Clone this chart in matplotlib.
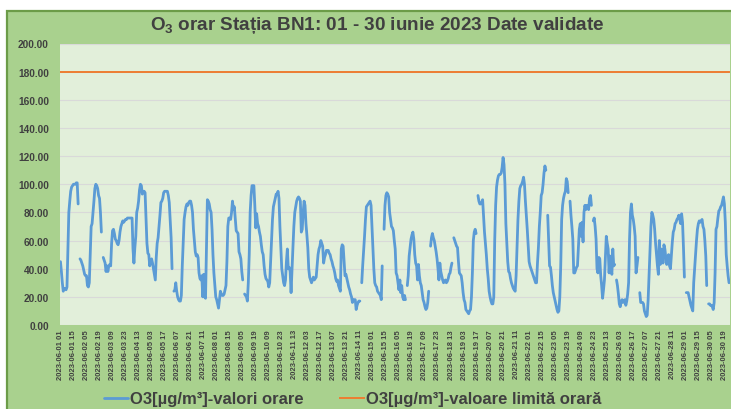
import numpy as np
import pandas as pd
import matplotlib
matplotlib.use('Agg')
import matplotlib.pyplot as plt
from matplotlib.patches import Rectangle

plt.rcParams['font.family'] = ['Liberation Sans', 'DejaVu Sans']
plt.rcParams['mathtext.default'] = 'regular'

nan = np.nan

# date: O3 orar, statia BN1, iunie 2023 (ug/m3)
prima_ora = '2023-06-01 01:00'
pas_eticheta = 14
limita_orara = 180.0
y_ticks = [0, 20, 40, 60, 80, 100, 120, 140, 160, 180, 200]

o3_orar = [
    45, 38, 30, 24, 26, 26, 25, 27, 55, 80, 88, 95, 98, 99, 100, 100, 100, 101, 101, 86, nan, 47, 46, 44,
    42, 39, 36, 35, 35, 28, 27, 30, 50, 70, 72, 80, 88, 97, 100, 99, 97, 92, 90, 80, 66, nan, 48, 46,
    44, 38, 42, 38, 42, 43, 42, 58, 67, 68, 65, 61, 60, 58, 57, 60, 66, 70, 72, 74, 73, 74, 75, 75,
    76, 76, 76, 76, 76, 76, 54, 44, 55, 63, 80, 83, 88, 96, 100, 99, 93, 95, 95, 94, 75, 58, 51, 50,
    42, 46, 47, 44, 40, 36, 32, 48, 58, 62, 70, 78, 87, 88, 90, 94, 95, 95, 95, 95, 92, 87, 75, 62,
    40, nan, 24, 25, 30, 24, 20, 18, 17, 17, 21, 42, 59, 75, 80, 84, 86, 85, 87, 88, 88, 85, 80, 68,
    60, 52, 49, 50, 48, 37, 33, 32, 35, 20, 36, 20, 19, 55, 89, 88, 86, 82, 80, 68, 50, 37, 28, 20,
    18, 15, 12, 18, 24, 22, 21, 21, 22, 25, 28, 45, 70, 76, 76, 75, 80, 88, 82, 84, 75, 67, 66, 65,
    52, 50, 47, 38, 32, nan, 22, 21, 20, 17, 30, 50, 80, 92, 99, 99, 99, 85, 69, 79, 72, 70, 66, 63,
    57, 52, 50, 42, 36, 33, 32, 31, 27, 30, 45, 61, 75, 84, 87, 90, 93, 93, 95, 90, 70, 55, 40, 35,
    30, 28, 32, 45, 54, 40, 41, 38, 23, 40, 55, 70, 80, 84, 88, 90, 91, 90, 88, 66, 68, 80, 88, 85,
    72, 64, 55, 40, 34, 32, 30, 32, 34, 32, 33, 34, 42, 50, 54, 56, 60, 58, 56, 44, 48, 50, 53, 53,
    53, 51, 50, 47, 45, 42, 40, 37, 33, 31, 32, 28, 26, 24, 54, 57, 56, 45, 35, 36, 33, 30, 27, 25,
    22, 20, 16, 18, 18, 18, 11, 14, 16, 17, 17, nan, 30, 42, 52, 63, 75, 84, 85, 86, 87, 88, 85, 70,
    55, 40, 30, 28, 27, 24, 23, 22, 21, 18, 42, nan, 68, 85, 92, 94, 93, 91, 80, 75, 70, 69, 67, 60,
    54, 37, 35, 30, 25, 32, 23, 28, 20, 18, 21, 18, nan, 28, 35, 49, 55, 61, 64, 66, 61, 50, 44,
    42, 32, 43, 35, 30, 28, 23, 18, 16, 13, 11, 12, 16, 24, nan, 56, 62, 65, 62, 60, 56, 52, 47, 40,
    32, 44, 38, 35, 32, 30, 31, 32, 30, 31, 33, 36, 37, 41, 44, nan, 62, 60, 58, 56, 55, 45, 37, 36,
    35, 30, 23, 18, 16, 11, 10, 9, 8, 10, 11, 20, 37, 60, 66, 68, 65, nan, 92, 88, 86, 86, 87, 89,
    78, 66, 58, 50, 40, 33, 24, 20, 17, 15, 15, 20, 60, 85, 98, 103, 106, 107, 107, 108, 112, 119, 114, 100,
    72, 58, 45, 38, 37, 33, 30, 28, 26, 25, 24, 35, 55, 75, 88, 97, 99, 100, 102, 105, 100, 88, 78, 68,
    56, 45, 42, 40, 38, 36, 34, 32, 30, 30, 44, 55, 70, 80, 92, 94, 100, 108, 113, 110, nan, 78, 61,
    42, 41, 35, 28, 23, 20, 17, 14, 11, 9, 10, 20, 42, 75, 85, 90, 93, 95, 104, 102, 94, nan, 88, 78,
    70, 61, 37, 37, 39, 41, 42, 55, 68, 72, 63, 73, 59, 80, 85, 82, 85, 83, 82, 90, 92, 85, nan, 74,
    76, 70, 61, 40, 37, 48, 47, 35, 28, 19, 25, 32, 47, 63, 58, 54, 37, 49, 40, 36, 54, 42, 43, nan,
    32, 28, 22, 15, 13, 17, 18, 16, 17, 18, 14, 17, 22, 30, 61, 80, 86, 78, 75, 70, 63, 37, 42, 48,
    nan, 23, 16, 16, 16, 15, 10, 8, 6, 7, 18, 35, 54, 70, 80, 78, 75, 68, 58, 50, 42, 36, 60,
    43, 54, 50, 44, 57, 54, 48, 43, 47, 50, 42, 40, 50, 59, 66, 68, 72, 73, 75, 76, 78, 75, 72, 79,
    73, 55, 34, nan, 23, 23, 23, 20, 17, 14, 12, 10, 30, 40, 49, 60, 68, 72, 74, 73, 74, 75, 70, 68,
    60, 49, 28, nan, 15, 15, 14, 14, 13, 11, 16, 37, 68, 70, 76, 81, 82, 84, 85, 88, 91, 86, 73, 50, 42, 35, 30,
]

n = len(o3_orar)
ore = pd.date_range(prima_ora, periods=n, freq='h')
etichete = ore.strftime('%Y-%m-%d %H')
x = np.arange(n)
valori = np.array(o3_orar, dtype=float)
limita = np.full(n, limita_orara)

W, H = 731, 410
fig = plt.figure(figsize=(W / 100, H / 100), dpi=100)

# fundalul verde al graficului
fundal = Rectangle((7 / W, -0.05), 1.0, 1 - 12 / H + 0.05, transform=fig.transFigure,
                   facecolor='#A9D18E', edgecolor='#6C9C48', lw=1.6, zorder=-1)
fig.add_artist(fundal)

ax = fig.add_axes([60 / W, 1 - 326 / H, 669.5 / W, 281.5 / H])
ax.set_facecolor('#E2EFDA')
for s in ax.spines.values():
    s.set_visible(False)

l1, = ax.plot(x, valori, color='#5B9BD5', lw=2.0, solid_joinstyle='round', solid_capstyle='round', zorder=3)
l2, = ax.plot(x, limita, color='#ED7D31', lw=1.4, zorder=2)

ax.set_xlim(-0.5, n - 0.5)
ax.set_ylim(0, 200)
ax.set_yticks(y_ticks)
ax.set_yticklabels(['{:.2f}'.format(v) for v in y_ticks], fontsize=7.3, weight='bold', color='#404040')
ax.yaxis.grid(True, color='#D9D9D9', lw=0.8)
ax.set_axisbelow(True)

poz = x[::pas_eticheta]
ax.set_xticks(poz)
ax.set_xticklabels(etichete[::pas_eticheta], rotation=90, fontsize=5.5, weight='bold', color='#404040')
ax.tick_params(axis='both', length=0)
ax.tick_params(axis='y', pad=8)
ax.tick_params(axis='x', pad=3)

fig.text(377 / W, 1 - 25 / H, 'O$_3$ orar Stația BN1: 01 - 30 iunie 2023 Date validate',
         ha='center', va='center', fontsize=13.6, weight='bold', color='#404040')

fig.legend([l1, l2], ['O3[µg/m³]-valori orare', 'O3[µg/m³]-valoare limită orară'],
           loc='center', bbox_to_anchor=(353 / W, 1 - 400 / H), ncol=2, frameon=False,
           prop=dict(weight='bold', size=12), labelcolor='#404040',
           handlelength=1.4, handletextpad=0.15, columnspacing=2.2)

fig.savefig('out.png', dpi=100)
